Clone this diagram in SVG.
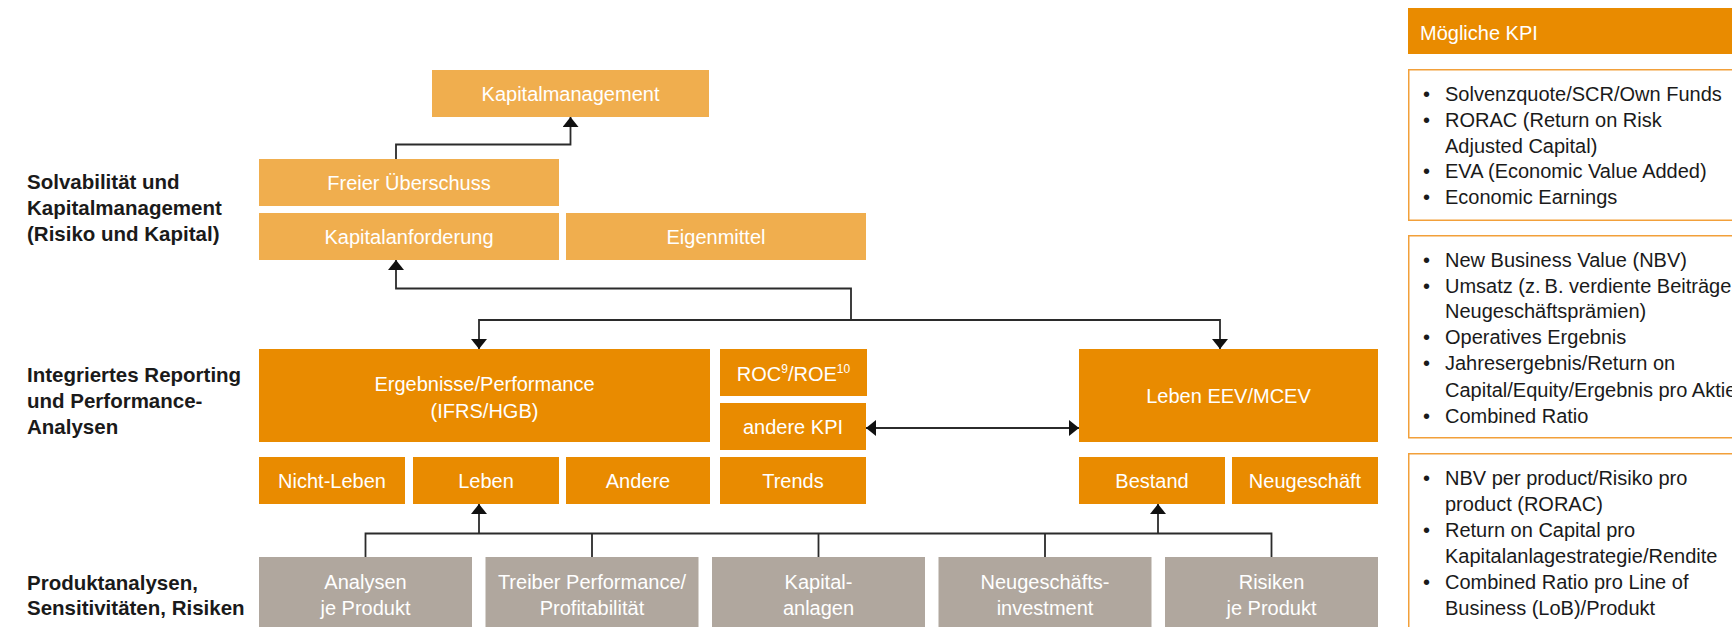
<svg xmlns="http://www.w3.org/2000/svg" width="1732" height="627" viewBox="0 0 1732 627">
  <style>
    .lo { fill: #F0AE4E; }
    .do { fill: #E98B00; }
    .gr { fill: #B0A79E; }
    .bt { font-family: "Liberation Sans", Arial, sans-serif; font-size: 20px; fill: #ffffff; text-anchor: middle; }
    .lbl { font-family: "Liberation Sans", Arial, sans-serif; font-size: 20.5px; font-weight: bold; fill: #1a1a1a; }
    .kpi { font-family: "Liberation Sans", Arial, sans-serif; font-size: 20px; fill: #1a1a1a; }
    .hdr { font-family: "Liberation Sans", Arial, sans-serif; font-size: 20px; fill: #ffffff; }
    .conn { stroke: #2b2b2b; stroke-width: 1.8; fill: none; }
    .kbox { fill: #ffffff; stroke: #F2A03A; stroke-width: 1.5; }
  </style>
  <defs>
    <marker id="arrow" viewBox="0 0 10 16" refX="10" refY="8" markerWidth="10" markerHeight="16" markerUnits="userSpaceOnUse" orient="auto-start-reverse">
      <path d="M0,0 L10,8 L0,16 z" fill="#111111"/>
    </marker>
  </defs>
  <rect width="1732" height="627" fill="#ffffff"/>

  <!-- Row labels -->
  <g id="label-solvency">
    <text class="lbl" x="27" y="189">Solvabilität und</text>
    <text class="lbl" x="27" y="215">Kapitalmanagement</text>
    <text class="lbl" x="27" y="241">(Risiko und Kapital)</text>
  </g>
  <g id="label-reporting">
    <text class="lbl" x="27" y="382">Integriertes Reporting</text>
    <text class="lbl" x="27" y="408">und Performance-</text>
    <text class="lbl" x="27" y="434">Analysen</text>
  </g>
  <g id="label-product">
    <text class="lbl" x="27" y="589.5">Produktanalysen,</text>
    <text class="lbl" x="27" y="615">Sensitivitäten, Risiken</text>
  </g>

  <!-- Connectors -->
  <g id="connectors">
    <path class="conn" d="M396,159 V144.5 H570.5 V117" marker-end="url(#arrow)"/>
    <path class="conn" d="M851,320 V288.5 H396 V260" marker-end="url(#arrow)"/>
    <path class="conn" d="M851,320 H479 V349" marker-end="url(#arrow)"/>
    <path class="conn" d="M851,320 H1220 V349" marker-end="url(#arrow)"/>
    <path class="conn" d="M866,428 H1079" marker-start="url(#arrow)" marker-end="url(#arrow)"/>
    <path class="conn" d="M365.5,557 V533.5 H1271.5 V557"/>
    <path class="conn" d="M592,533.5 V557 M818.5,533.5 V557 M1045,533.5 V557"/>
    <path class="conn" d="M479,533.5 V504" marker-end="url(#arrow)"/>
    <path class="conn" d="M1158,533.5 V504" marker-end="url(#arrow)"/>
  </g>

  <!-- Capital management level -->
  <g id="kapitalmanagement">
    <rect class="lo" x="432" y="70" width="277" height="47"/>
    <text class="bt" x="570.5" y="101">Kapitalmanagement</text>
  </g>
  <g id="freier-ueberschuss">
    <rect class="lo" x="259" y="159" width="300" height="47"/>
    <text class="bt" x="409" y="190">Freier Überschuss</text>
  </g>
  <g id="kapitalanforderung">
    <rect class="lo" x="259" y="213" width="300" height="47"/>
    <text class="bt" x="409" y="244">Kapitalanforderung</text>
  </g>
  <g id="eigenmittel">
    <rect class="lo" x="566" y="213" width="300" height="47"/>
    <text class="bt" x="716" y="244">Eigenmittel</text>
  </g>

  <!-- Reporting level -->
  <g id="ergebnisse">
    <rect class="do" x="259" y="349" width="451" height="93"/>
    <text class="bt" x="484.5" y="391">Ergebnisse/Performance</text>
    <text class="bt" x="484.5" y="417.5">(IFRS/HGB)</text>
  </g>
  <g id="roc-roe">
    <rect class="do" x="720" y="349" width="147" height="47"/>
    <text class="bt" x="793.5" y="381">ROC<tspan font-size="12" dy="-8">9</tspan><tspan dy="8">/ROE</tspan><tspan font-size="12" dy="-8">10</tspan></text>
  </g>
  <g id="andere-kpi">
    <rect class="do" x="720" y="403" width="146" height="47"/>
    <text class="bt" x="793" y="434">andere KPI</text>
  </g>
  <g id="nicht-leben">
    <rect class="do" x="259" y="457" width="146" height="47"/>
    <text class="bt" x="332" y="488">Nicht-Leben</text>
  </g>
  <g id="leben">
    <rect class="do" x="413" y="457" width="146" height="47"/>
    <text class="bt" x="486" y="488">Leben</text>
  </g>
  <g id="andere">
    <rect class="do" x="566" y="457" width="144" height="47"/>
    <text class="bt" x="638" y="488">Andere</text>
  </g>
  <g id="trends">
    <rect class="do" x="720" y="457" width="146" height="47"/>
    <text class="bt" x="793" y="488">Trends</text>
  </g>
  <g id="leben-eev">
    <rect class="do" x="1079" y="349" width="299" height="93"/>
    <text class="bt" x="1228.5" y="403">Leben EEV/MCEV</text>
  </g>
  <g id="bestand">
    <rect class="do" x="1079" y="457" width="146" height="47"/>
    <text class="bt" x="1152" y="488">Bestand</text>
  </g>
  <g id="neugeschaeft">
    <rect class="do" x="1232" y="457" width="146" height="47"/>
    <text class="bt" x="1305" y="488">Neugeschäft</text>
  </g>

  <!-- Product analysis level -->
  <g id="analysen">
    <rect class="gr" x="259" y="557" width="213" height="70"/>
    <text class="bt" x="365.5" y="589">Analysen</text>
    <text class="bt" x="365.5" y="614.5">je Produkt</text>
  </g>
  <g id="treiber">
    <rect class="gr" x="485.5" y="557" width="213" height="70"/>
    <text class="bt" x="592" y="589">Treiber Performance/</text>
    <text class="bt" x="592" y="614.5">Profitabilität</text>
  </g>
  <g id="kapitalanlagen">
    <rect class="gr" x="712" y="557" width="213" height="70"/>
    <text class="bt" x="818.5" y="589">Kapital-</text>
    <text class="bt" x="818.5" y="614.5">anlagen</text>
  </g>
  <g id="neugeschaeftsinvestment">
    <rect class="gr" x="938.5" y="557" width="213" height="70"/>
    <text class="bt" x="1045" y="589">Neugeschäfts-</text>
    <text class="bt" x="1045" y="614.5">investment</text>
  </g>
  <g id="risiken">
    <rect class="gr" x="1165" y="557" width="213" height="70"/>
    <text class="bt" x="1271.5" y="589">Risiken</text>
    <text class="bt" x="1271.5" y="614.5">je Produkt</text>
  </g>

  <!-- KPI panel -->
  <g id="kpi-header">
    <rect class="do" x="1408" y="8" width="340" height="46"/>
    <text class="hdr" x="1420" y="40">Mögliche KPI</text>
  </g>
  <g id="kpi-solvency">
    <rect class="kbox" x="1408.75" y="69.75" width="340" height="150.5"/>
    <text class="kpi" x="1423" y="101">•</text>
    <text class="kpi" x="1445" y="101">Solvenzquote/SCR/Own Funds</text>
    <text class="kpi" x="1423" y="126.75">•</text>
    <text class="kpi" x="1445" y="126.75">RORAC (Return on Risk</text>
    <text class="kpi" x="1445" y="152.5">Adjusted Capital)</text>
    <text class="kpi" x="1423" y="178.25">•</text>
    <text class="kpi" x="1445" y="178.25">EVA (Economic Value Added)</text>
    <text class="kpi" x="1423" y="204">•</text>
    <text class="kpi" x="1445" y="204">Economic Earnings</text>
  </g>
  <g id="kpi-reporting">
    <rect class="kbox" x="1408.75" y="235.75" width="340" height="202"/>
    <text class="kpi" x="1423" y="266.5">•</text>
    <text class="kpi" x="1445" y="266.5">New Business Value (NBV)</text>
    <text class="kpi" x="1423" y="292.5">•</text>
    <text class="kpi" x="1445" y="292.5">Umsatz (z.&#8201;B. verdiente Beiträge</text>
    <text class="kpi" x="1445" y="318">Neugeschäftsprämien)</text>
    <text class="kpi" x="1423" y="344">•</text>
    <text class="kpi" x="1445" y="344">Operatives Ergebnis</text>
    <text class="kpi" x="1423" y="370">•</text>
    <text class="kpi" x="1445" y="370">Jahresergebnis/Return on</text>
    <text class="kpi" x="1445" y="396.5">Capital/Equity/Ergebnis pro Aktie</text>
    <text class="kpi" x="1423" y="422.5">•</text>
    <text class="kpi" x="1445" y="422.5">Combined Ratio</text>
  </g>
  <g id="kpi-product">
    <rect class="kbox" x="1408.75" y="453.75" width="340" height="200"/>
    <text class="kpi" x="1423" y="485">•</text>
    <text class="kpi" x="1445" y="485">NBV per product/Risiko pro</text>
    <text class="kpi" x="1445" y="511">product (RORAC)</text>
    <text class="kpi" x="1423" y="537">•</text>
    <text class="kpi" x="1445" y="537">Return on Capital pro</text>
    <text class="kpi" x="1445" y="563">Kapitalanlagestrategie/Rendite</text>
    <text class="kpi" x="1423" y="589">•</text>
    <text class="kpi" x="1445" y="589">Combined Ratio pro Line of</text>
    <text class="kpi" x="1445" y="615">Business (LoB)/Produkt</text>
  </g>
</svg>
